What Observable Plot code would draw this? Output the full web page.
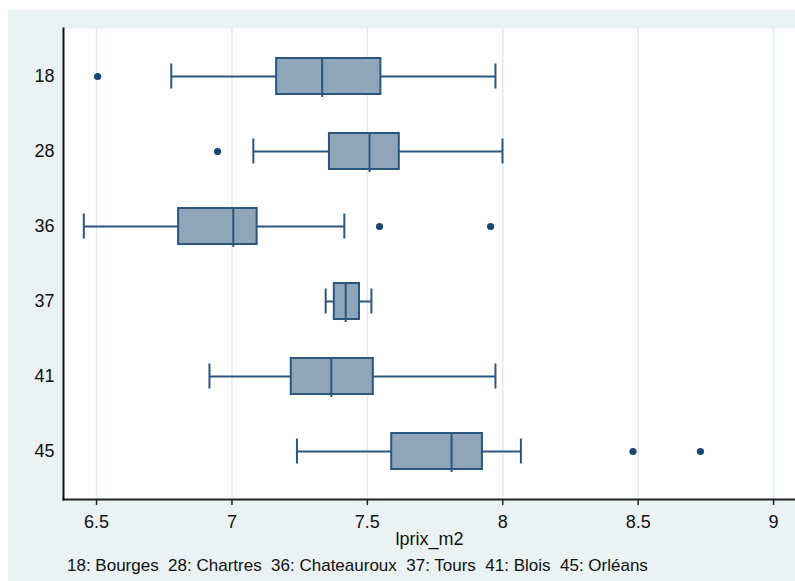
<!DOCTYPE html>
<html>
<head>
<meta charset="utf-8">
<script src="https://cdn.jsdelivr.net/npm/d3@7"></script>
<script src="https://cdn.jsdelivr.net/npm/@observablehq/plot@0.6"></script>
<style>
  html, body { margin: 0; padding: 0; background: #ffffff; }
  #wrap { position: absolute; left: 8px; top: 10px; width: 787px; height: 571px; background: #EAF2F3; overflow: hidden; }
  #chart svg { display: block; }
  #cap { font-family: "Liberation Sans", Arial, sans-serif; font-size: 17px; color: #111; white-space: pre; padding-left: 59px; line-height: 28px; height: 29px; }
</style>
</head>
<body>
<div id="wrap"><div id="chart"></div><div id="cap"></div></div>
<script>
const depts = ["18", "28", "36", "37", "41", "45"];
const cities = ["Bourges", "Chartres", "Chateauroux", "Tours", "Blois", "Orléans"];
const whiskerLow = [6.776, 7.079, 6.453, 7.346, 6.917, 7.240];
const q1 = [7.165, 7.360, 6.803, 7.378, 7.219, 7.590];
const median = [7.333, 7.508, 7.005, 7.420, 7.367, 7.811];
const q3 = [7.550, 7.618, 7.093, 7.471, 7.522, 7.925];
const whiskerHigh = [7.973, 7.999, 7.415, 7.515, 7.973, 8.067];
const outlierDept = ["18", "28", "36", "36", "45", "45"];
const outlierValue = [6.504, 6.947, 7.545, 7.955, 8.481, 8.730];
const xTicks = [6.5, 7, 7.5, 8, 8.5, 9];
const xLabel = "lprix_m2";

const boxes = depts.map((d, i) => ({dept: d, wl: whiskerLow[i], q1: q1[i], med: median[i], q3: q3[i], wh: whiskerHigh[i]}));
const outliers = outlierDept.map((d, i) => ({dept: d, v: outlierValue[i]}));

const navy = "#1A476F";
const boxStroke = "#2A5680";
const boxFill = "#8FA5BA";

const chart = Plot.plot({
  width: 787,
  height: 542,
  marginLeft: 55,
  marginRight: 0,
  marginTop: 18,
  marginBottom: 53,
  style: {background: "transparent", fontFamily: "Liberation Sans, Arial, sans-serif", fontSize: "18px", color: "#111"},
  x: {domain: [6.378, 9.081], ticks: xTicks},
  y: {domain: depts, type: "band", paddingInner: 0.52, paddingOuter: 0.39},
  marks: [
    Plot.frame({fill: "white", stroke: "none"}),
    Plot.gridX(xTicks, {stroke: "#E2EAEE", strokeOpacity: 1, strokeWidth: 1.5}),
    Plot.axisX({ticks: xTicks, tickSize: 6, tickPadding: 10, fontSize: 18, label: null, stroke: "#222", strokeWidth: 1.5, tickFormat: d => String(d)}),
    Plot.axisY({tickSize: 0, tickPadding: 9, fontSize: 18, label: null}),
    Plot.frame({anchor: "bottom", stroke: "#222", strokeWidth: 2}),
    Plot.frame({anchor: "left", stroke: "#111", strokeWidth: 2}),
    Plot.ruleY(boxes, {y: "dept", x1: "wl", x2: "q1", stroke: boxStroke, strokeWidth: 2}),
    Plot.ruleY(boxes, {y: "dept", x1: "q3", x2: "wh", stroke: boxStroke, strokeWidth: 2}),
    Plot.tickX(boxes, {y: "dept", x: "wl", stroke: boxStroke, strokeWidth: 2, insetTop: 5.5, insetBottom: 5.5}),
    Plot.tickX(boxes, {y: "dept", x: "wh", stroke: boxStroke, strokeWidth: 2, insetTop: 5.5, insetBottom: 5.5}),
    Plot.barX(boxes, {y: "dept", x1: "q1", x2: "q3", fill: boxFill, stroke: boxStroke, strokeWidth: 2}),
    Plot.tickX(boxes, {y: "dept", x: "med", stroke: boxStroke, strokeWidth: 2, insetBottom: -3}),
    Plot.dot(outliers, {y: "dept", x: "v", r: 3.6, fill: navy, stroke: "none"}),
    Plot.text([xLabel], {frameAnchor: "bottom", dy: 40, lineAnchor: "middle", fontSize: 18, fill: "#111"})
  ]
});
document.getElementById("chart").appendChild(chart);
document.getElementById("cap").textContent = depts.map((d, i) => d + ": " + cities[i]).join("  ");
</script>
</body>
</html>
